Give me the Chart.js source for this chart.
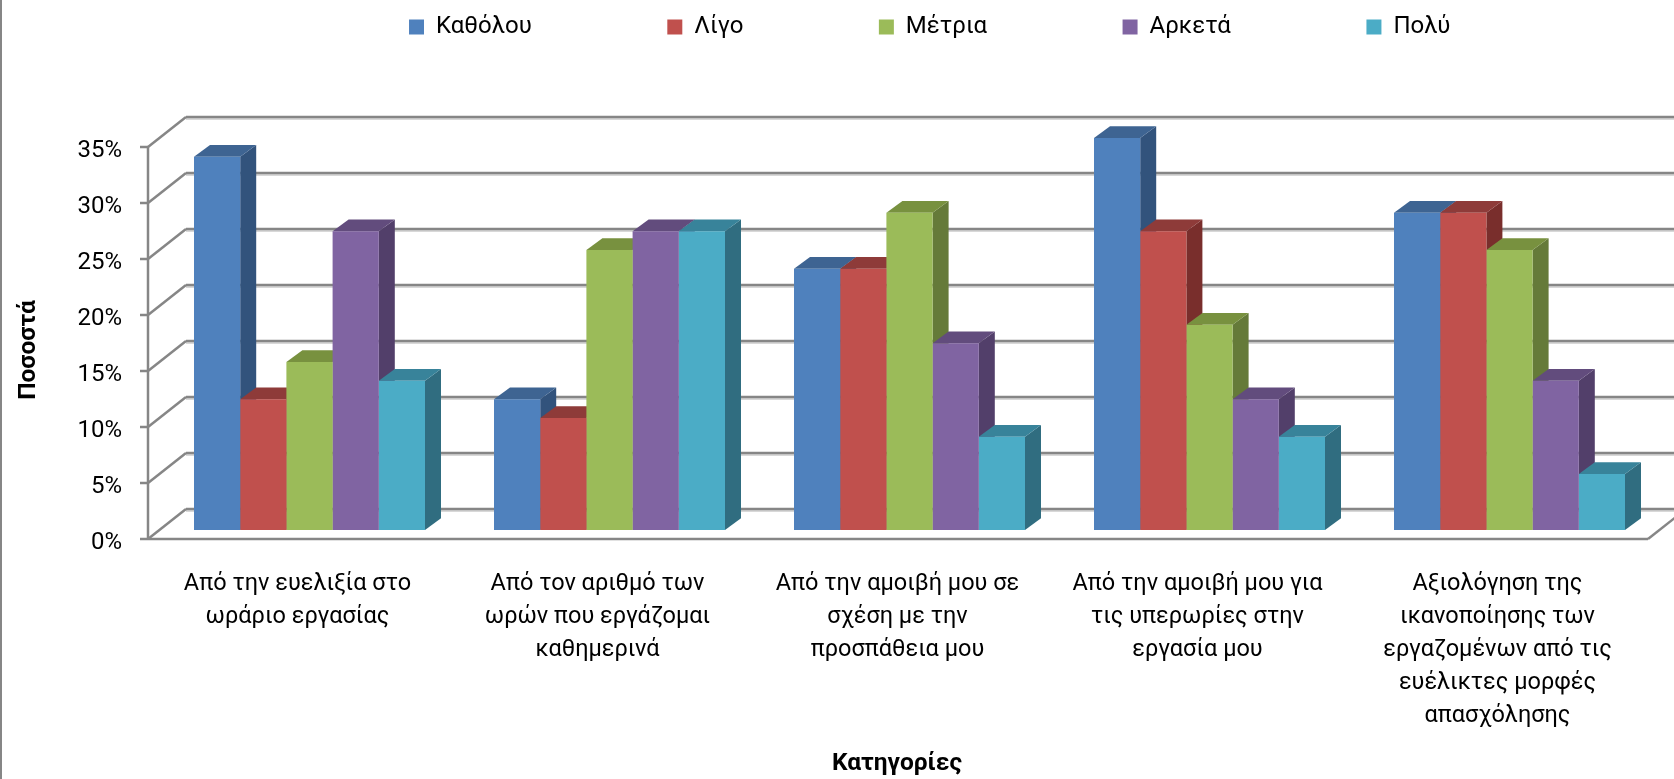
<!DOCTYPE html>
<html lang="el">
<head>
<meta charset="utf-8">
<title>Ποσοστά ανά κατηγορία</title>
<script src="https://cdn.jsdelivr.net/npm/chart.js@4"></script>
<style>
    html, body { margin: 0; padding: 0; background: #fff; }
    #wrap { width: 1674px; height: 779px; }
</style>
</head>
<body>
<div id="wrap"><canvas id="chart" width="1674" height="779"></canvas></div>
<script>
    const categories = [
        ["Από την ευελιξία στο", "ωράριο εργασίας"],
        ["Από τον αριθμό των", "ωρών που εργάζομαι", "καθημερινά"],
        ["Από την αμοιβή μου σε", "σχέση με την", "προσπάθεια μου"],
        ["Από την αμοιβή μου για", "τις υπερωρίες στην", "εργασία μου"],
        ["Αξιολόγηση της", "ικανοποίησης των", "εργαζομένων από τις", "ευέλικτες μορφές", "απασχόλησης"]
    ];

    const seriesNames = ["Καθόλου", "Λίγο", "Μέτρια", "Αρκετά", "Πολύ"];
    const katholou = [33.33, 11.67, 23.33, 35, 28.33];
    const ligo = [11.67, 10, 23.33, 26.67, 28.33];
    const metria = [15, 25, 28.33, 18.33, 25];
    const arketa = [26.67, 26.67, 16.67, 11.67, 13.33];
    const poly = [13.33, 26.67, 8.33, 8.33, 5];

    const frontColors = ["#4F81BD", "#C0504D", "#9BBB59", "#8064A2", "#4BACC6"];
    const topColors = ["#3E6492", "#8E3B39", "#78913F", "#624C7D", "#38839A"];
    const sideColors = ["#32537C", "#792E2C", "#657A39", "#523F6A", "#306D80"];

    const FONT = 'Roboto, "Noto Sans", sans-serif';
    const GRID = "#868686";
    // 3D look: how far the bars and the back wall sit from the front axis plane
    const BAR_DX = 16, BAR_DY = 11.7;
    const WALL_DX = 38, WALL_DY = 30;
    const PLANE_DX = 11.5, PLANE_DY = 9;

    function line(ctx, x1, y1, x2, y2) {
        ctx.beginPath();
        ctx.moveTo(x1, y1);
        ctx.lineTo(x2, y2);
        ctx.stroke();
    }

    function fillShape(ctx, pts, color) {
        ctx.fillStyle = color;
        ctx.beginPath();
        ctx.moveTo(pts[0], pts[1]);
        for (let i = 2; i < pts.length; i += 2) ctx.lineTo(pts[i], pts[i + 1]);
        ctx.closePath();
        ctx.fill();
    }

    // walls, floor and the bar sides and tops go underneath the library's bars
    const box3d = {
        id: "box3d",
        beforeDatasetsDraw(chart) {
            const ctx = chart.ctx;
            const yScale = chart.scales.y;
            const area = chart.chartArea;
            const frontLeft = area.left - PLANE_DX;
            const frontRight = area.right - PLANE_DX;

            ctx.save();
            ctx.lineCap = "butt";
            yScale.ticks.forEach(t => {
                const y = yScale.getPixelForValue(t.value) + PLANE_DY;
                const backY = y - WALL_DY;
                // light edge under each wall line
                ctx.strokeStyle = "#d8d8d8";
                ctx.lineWidth = 2;
                line(ctx, frontLeft + WALL_DX, backY + 2, chart.width, backY + 2);
                ctx.strokeStyle = GRID;
                ctx.lineWidth = 2.5;
                line(ctx, frontLeft + WALL_DX, backY, chart.width, backY);
                line(ctx, frontLeft, y, frontLeft + WALL_DX, backY);
                line(ctx, frontLeft - 8, y, frontLeft, y);
            });

            const floorY = yScale.getPixelForValue(0) + PLANE_DY;
            const topY = yScale.getPixelForValue(35) + PLANE_DY;
            ctx.strokeStyle = GRID;
            ctx.lineWidth = 2.5;
            line(ctx, frontLeft, topY, frontLeft, floorY);
            line(ctx, frontLeft, floorY, frontRight, floorY);
            line(ctx, frontRight, floorY, frontRight + WALL_DX, floorY - WALL_DY);

            chart.data.datasets.forEach((ds, i) => {
                chart.getDatasetMeta(i).data.forEach(bar => {
                    const left = bar.x - bar.width / 2;
                    const right = bar.x + bar.width / 2;
                    fillShape(ctx, [right, bar.y, right + BAR_DX, bar.y - BAR_DY,
                        right + BAR_DX, bar.base - BAR_DY, right, bar.base], sideColors[i]);
                    fillShape(ctx, [left, bar.y, right, bar.y,
                        right + BAR_DX, bar.y - BAR_DY, left + BAR_DX, bar.y - BAR_DY], topColors[i]);
                });
            });
            ctx.restore();
        },
        afterDraw(chart) {
            const ctx = chart.ctx;
            ctx.save();
            ctx.fillStyle = "#000";
            ctx.font = "bold 24.5px " + FONT;
            ctx.textAlign = "center";
            ctx.textBaseline = "middle";
            ctx.fillText("Κατηγορίες", 897, 764);
            ctx.translate(29, 350);
            ctx.rotate(-Math.PI / 2);
            ctx.fillText("Ποσοστά", 0, 0);
            ctx.restore();

            // outer frame of the chart
            ctx.save();
            ctx.strokeStyle = GRID;
            ctx.lineWidth = 2;
            line(ctx, 1, 0, 1, chart.height);
            ctx.restore();
        }
    };

    // the legend's item gap also sets its height, so lift it back to the top row
    const legendRow = {
        id: "legendRow",
        afterLayout(chart) {
            const padding = chart.options.plugins.legend.labels.padding;
            chart.legend.top = 15 - padding;
            chart.legend.left += 100;
            chart.legend.right += 100;
        }
    };

    const allSeries = [katholou, ligo, metria, arketa, poly];

    new Chart(document.getElementById("chart"), {
        type: "bar",
        data: {
            labels: categories,
            datasets: allSeries.map((values, i) => ({
                label: seriesNames[i],
                data: values,
                backgroundColor: frontColors[i],
                borderWidth: 0,
                categoryPercentage: 0.77,
                barPercentage: 1
            }))
        },
        plugins: [box3d, legendRow],
        options: {
            responsive: false,
            animation: false,
            layout: { padding: { top: 98, right: 14.5, left: 0, bottom: 0 } },
            plugins: {
                tooltip: { enabled: false },
                legend: {
                    position: "top",
                    maxHeight: 40,
                    labels: {
                        boxWidth: 15,
                        boxHeight: 15,
                        padding: 135.5,
                        color: "#000",
                        font: { family: FONT, size: 24 }
                    }
                }
            },
            scales: {
                x: {
                    grid: { display: false, drawTicks: false },
                    border: { display: false },
                    afterFit(scale) { scale.height = 249; },
                    ticks: {
                        color: "#000",
                        padding: 38,
                        labelOffset: -12,
                        maxRotation: 0,
                        minRotation: 0,
                        autoSkip: false,
                        font: { family: FONT, size: 23.5, lineHeight: 1.404 }
                    }
                },
                y: {
                    min: 0,
                    max: 35,
                    grid: { display: false, drawTicks: false },
                    border: { display: false },
                    afterFit(scale) { scale.width = 159.5; },
                    ticks: {
                        stepSize: 5,
                        color: "#000",
                        padding: 37.5,
                        labelOffset: 13,
                        font: { family: FONT, size: 24 },
                        callback: v => v + "%"
                    }
                }
            }
        }
    });
</script>
</body>
</html>
